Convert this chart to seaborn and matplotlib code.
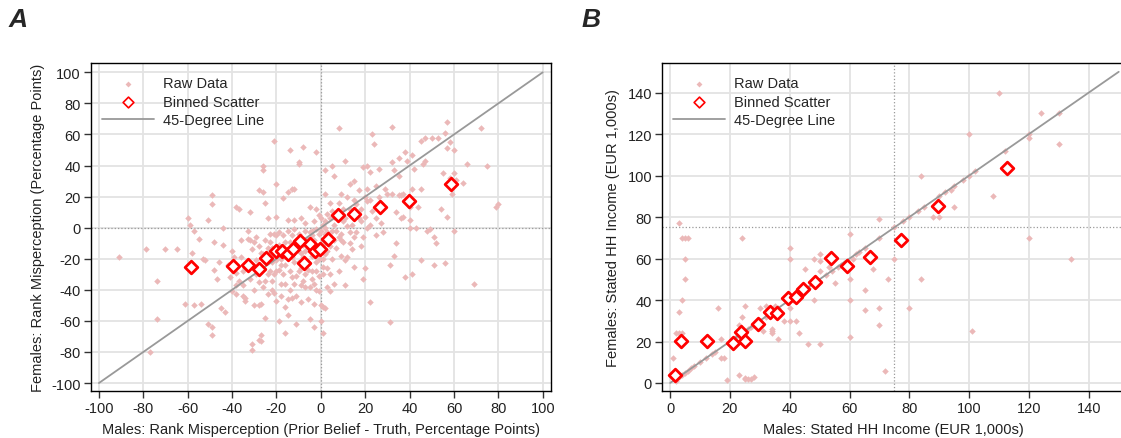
import numpy as np
import pandas as pd
import matplotlib
matplotlib.use('Agg')
import matplotlib.pyplot as plt
import seaborn as sns

# panel A: rank misperception (males x, females y)
raw_a = [
    (-91, -19), (-79, -14), (-70, -14), (-65, -14), (-60, 6), (-59, 2), (-57, -2), (-74, -34),
    (-74, -59), (-77, -80), (-61, -49), (-57, -50), (-58, -16), (-55, -7), (-54, -49), (-52, -21),
    (-53, -20), (-51, -62), (-49, -64), (-49, -69), (-49, 21), (-49, 15), (-51, 5), (-48, -27),
    (-47, -33), (-48, -9), (-45, -52), (-44, -11), (-43, -54), (-44, 0), (-46, -22), (-42, -24),
    (-40, -15), (-38, -43), (-38, -37), (-38, 13), (-37, 12), (-38, -29), (-39, -19), (-36, -19),
    (-36, -8), (-35, -28), (-35, -44), (-34, -45), (-34, -47), (-33, -2), (-33, -7), (-32, -8),
    (-32, 10), (-31, -79), (-31, -75), (-29, -21), (-30, -50), (-29, -30), (-28, -50), (-28, -72),
    (-27, -69), (-27, -49), (-27, -73), (-26, -38), (-26, -17), (-26, 40), (-26, 37), (-26, 23),
    (-28, 24), (-25, -58), (-25, -34), (-24, -43), (-25, 16), (-24, 6), (-24, -13), (-23, -9),
    (-23, -4), (-22, -34), (-21, -42), (-21, -30), (-20, -28), (-20, -47), (-19, -60), (-20, 28),
    (-20, 7), (-20, -21), (-21, 56), (-18, -24), (-18, -20), (-17, -5), (-17, 19), (-16, -51),
    (-16, -68), (-15, -56), (-15, -46), (-15, 23), (-14, 50), (-14, -40), (-13, -32), (-13, -5),
    (-12, 5), (-12, 25), (-12, -11), (-11, -31), (-11, -44), (-11, -62), (-10, -15), (-10, 42),
    (-10, -28), (-9, -16), (-9, -48), (-8, -7), (-8, -34), (-8, -11), (-7, -2), (-7, -30),
    (-6, -22), (-6, -46), (-5, -59), (-5, -38), (-5, -12), (-5, 13), (-4, -5), (-4, -28),
    (-3, -64), (-3, -49), (-3, -36), (-2, -28), (-2, -40), (-2, 12), (-2, -1), (-2, 49),
    (-1, -20), (-1, -41), (0, -2), (0, -50), (0, -60), (1, -68), (1, -30), (1, -51),
    (1, -20), (2, -52), (2, -10), (2, -4), (2, 0), (2, 4), (2, 37), (2, 22),
    (3, -26), (3, -38), (4, -6), (4, -41), (4, -30), (4, 6), (4, 16), (5, 11),
    (5, 40), (5, -20), (6, -36), (6, -8), (6, 33), (6, 7), (7, -13), (7, -2),
    (8, 64), (8, -28), (8, 16), (9, -4), (9, -18), (9, 22), (9, -8), (10, 4),
    (10, 12), (11, 43), (11, -37), (11, -21), (12, -19), (12, 20), (13, 28), (13, -10),
    (13, 12), (14, 2), (14, -14), (15, 30), (15, 18), (15, -6), (15, -25), (16, -3),
    (16, 10), (17, 6), (17, 24), (18, 4), (18, -12), (19, 39), (19, -6), (19, -33),
    (20, -26), (20, 7), (21, 0), (21, 40), (21, 25), (21, 17), (22, -48), (22, 18),
    (22, 2), (22, 36), (23, 60), (24, 54), (25, -5), (25, 6), (25, 27), (26, 20),
    (26, 38), (27, 16), (27, 3), (28, 13), (28, -3), (29, 25), (30, 22), (31, -61),
    (31, -24), (32, 65), (32, 42), (32, 22), (33, -18), (33, 37), (34, -10), (34, 10),
    (35, 45), (35, 21), (35, 33), (36, 6), (36, 21), (37, 22), (37, 7), (38, -32),
    (38, 49), (39, 43), (40, 0), (40, 5), (40, 13), (41, -30), (41, 25), (41, 47),
    (42, 38), (43, 0), (44, 13), (45, -21), (45, 56), (45, 25), (46, 41), (47, 43),
    (47, 58), (48, -2), (49, -1), (50, 58), (51, -24), (51, -6), (52, -10), (53, 58),
    (54, 12), (55, 35), (56, 61), (56, -23), (57, 51), (57, 68), (57, 7), (58, 55),
    (58, 32), (59, 22), (60, 35), (60, 50), (60, -2), (61, 31), (64, 29), (66, 41),
    (69, -36), (72, 64), (75, 40), (79, 13), (80, 15), (-8, 52), (-10, 41), (-13, 25),
    (-12, -1), (-15, 5), (-4, -2), (-1, 8), (-20, -5), (-18, -36), (-24, -21), (-22, -13),
    (-17, -30), (-14, -17), (-12, -22), (-9, -26), (-7, -15), (-6, -7), (-3, -15), (-1, -11),
    (1, -8), (3, -15), (-16, -9), (-19, -11), (-23, -28), (-27, -16), (-30, -9), (-34, -26),
    (-37, -34), (-40, -41), (-41, -32),
    # denser core of the cloud
    (-31, -14), (-29, -6), (-28, -12), (-26, -26), (-25, -8), (-22, -22), (-21, -17), (-21, -4),
    (-19, -27), (-19, -3), (-17, -14), (-16, -24), (-15, -2), (-14, -28), (-14, -9), (-13, -19),
    (-12, -36), (-11, -8), (-10, -4), (-10, -22), (-9, 6), (-8, -19), (-7, -38), (-7, 3),
    (-6, -13), (-6, -27), (-5, -3), (-4, -18), (-4, -33), (-3, -8), (-3, 4), (-2, -22),
    (-1, -4), (-1, -31), (0, 6), (0, -14), (1, -25), (1, 2), (2, -17), (3, -3),
    (3, 9), (4, -12), (5, -2), (6, 2), (7, 9), (8, -6), (10, -9), (11, 6),
    (12, 1), (13, -3), (16, 15), (18, 12), (20, 20), (23, 11), (-35, -37), (-32, -33),
    (-30, -40), (-28, -35), (-24, -30), (-22, -40), (-18, -44), (-16, -36), (-13, -45), (-9, -37),
]
bin_a_x = [-58.7, -39.5, -32.8, -28.0, -24.8, -20.4, -17.5, -14.6, -12.4, -9.5,
           -7.4, -4.8, -2.6, -0.2, 3.4, 7.7, 15.1, 26.7, 39.9, 58.5]
bin_a_y = [-25.1, -24.6, -24.0, -26.8, -19.5, -15.0, -14.8, -17.1, -13.5, -8.4,
           -22.5, -10.7, -15.2, -13.9, -7.5, 7.9, 9.0, 13.1, 17.3, 27.8]
line_a = [-100, 100]

# panel B: stated household income
raw_b = [
    (1, 12), (2, 1), (2, 24), (3, 24), (3, 34), (3, 77), (4, 70), (4, 40), (4, 24), (5, 70),
    (5, 60), (5, 50), (6, 70), (3, 3), (4, 4), (5, 5), (6, 6), (7, 7), (8, 8), (10, 10),
    (12, 12), (14, 14), (15, 15), (16, 36), (17, 21), (17, 12), (18, 12), (19, 1.5), (20, 20), (22, 22),
    (23, 4), (23, 28), (24, 70), (24, 32), (25, 2), (25, 2.5), (26, 2), (27, 2), (25, 37), (26, 26),
    (27, 27), (28, 3), (30, 30), (30, 36), (31, 25), (32, 32), (32, 37), (33, 34), (34, 26), (34, 24),
    (34, 25), (35, 37), (35, 35), (36, 21), (36, 36), (38, 30), (40, 65), (40, 60), (40, 30), (40, 36),
    (41, 40), (42, 30), (43, 24), (44, 44), (45, 55), (46, 19), (46, 46), (48, 40), (48, 60), (49, 49),
    (50, 62), (50, 59), (50, 19), (50, 54), (52, 52), (53, 56), (54, 54), (55, 48), (56, 56), (57, 57),
    (58, 58), (59, 59), (60, 72), (60, 50), (60, 40), (60, 22), (61, 60), (62, 62), (63, 63), (65, 45),
    (65, 35), (65, 65), (66, 60), (68, 55), (70, 79), (70, 70), (70, 36), (70, 28), (72, 6), (73, 50),
    (75, 60), (75, 75), (78, 78), (80, 36), (80, 80), (83, 83), (84, 100), (84, 50), (85, 85), (88, 80),
    (90, 90), (90, 80), (92, 92), (94, 93), (95, 85), (95, 95), (98, 98), (100, 120), (100, 100), (101, 25),
    (102, 102), (108, 90), (110, 140), (112, 112), (120, 120), (120, 70), (124, 130), (130, 130), (130, 115),
    (134, 60), (120, 118),
]
bin_b_x = [1.8, 3.7, 12.2, 21.1, 23.8, 25.1, 29.4, 33.3, 35.7, 39.4,
           42.0, 44.6, 48.6, 53.8, 59.1, 66.8, 77.3, 89.5, 112.7]
bin_b_y = [3.9, 20.3, 20.4, 19.1, 24.6, 20.1, 28.3, 34.4, 33.8, 40.8,
           41.6, 45.2, 48.5, 60.3, 56.3, 60.9, 69.0, 85.4, 103.8]
line_b = [0, 150]

sns.set_style('whitegrid')
plt.rcParams['font.family'] = ['Liberation Sans', 'DejaVu Sans']
plt.rcParams['axes.unicode_minus'] = False

RAW_COLOR = '#ebb8b8'
GRID_COLOR = '#e3e3e3'
FS = 10.5


def draw_panel(ax, raw, bx, by, line, xlabel, ylabel, xlim, ylim, ticks, ref):
    df_raw = pd.DataFrame(raw, columns=['x', 'y'])
    df_bin = pd.DataFrame({'x': bx, 'y': by})
    sns.scatterplot(data=df_raw, x='x', y='y', ax=ax, marker='D', s=11, color=RAW_COLOR,
                    linewidth=0, label='Raw Data', zorder=3)
    sns.scatterplot(data=df_bin, x='x', y='y', ax=ax, marker='D', s=42, facecolor='white',
                    edgecolor='#ff0000', linewidth=2, label='Binned Scatter', zorder=5)
    sns.lineplot(x=line, y=line, ax=ax, color='#999999', linewidth=1.3,
                 label='45-Degree Line', zorder=4)
    ax.axvline(ref, color='#999999', linestyle=':', linewidth=0.9, zorder=2)
    ax.axhline(ref, color='#999999', linestyle=':', linewidth=0.9, zorder=2)
    ax.set_xlim(*xlim)
    ax.set_ylim(*ylim)
    ax.set_xticks(ticks[0])
    ax.set_yticks(ticks[1])
    ax.grid(True, color=GRID_COLOR, linewidth=1.3)
    ax.set_axisbelow(True)
    for sp in ax.spines.values():
        sp.set_color('black')
        sp.set_linewidth(1.0)
    ax.tick_params(axis='both', which='both', direction='out', length=5, width=1.0,
                   color='#333333', labelsize=FS, labelcolor='#222222', pad=2,
                   bottom=True, left=True)
    ax.set_xlabel(xlabel, fontsize=FS, color='#222222', labelpad=5)
    ax.set_ylabel(ylabel, fontsize=FS, color='#222222', labelpad=5)
    leg = ax.legend(loc='upper left', bbox_to_anchor=(-0.004, 1.0), frameon=False,
                    fontsize=FS, handlelength=3.6, handletextpad=0.6,
                    labelspacing=0.3, borderpad=0.9, borderaxespad=0.0)
    leg.legend_handles[0].set_sizes([9])
    leg.legend_handles[1].set_sizes([30])
    leg.legend_handles[1].set_linewidth(1.2)


fig = plt.figure(figsize=(11.21, 4.39), dpi=100)
ax_a = fig.add_axes([0.0809, 0.1064, 0.4104, 0.7471])
ax_b = fig.add_axes([0.5903, 0.1064, 0.413, 0.7471])

draw_panel(ax_a, raw_a, bin_a_x, bin_a_y, line_a,
           'Males: Rank Misperception (Prior Belief - Truth, Percentage Points)',
           'Females: Rank Misperception (Percentage Points)',
           (-103.7, 103.6), (-105.3, 105.8),
           (np.arange(-100, 101, 20), np.arange(-100, 101, 20)), 0)
draw_panel(ax_b, raw_b, bin_b_x, bin_b_y, line_b,
           'Males: Stated HH Income (EUR 1,000s)',
           'Females: Stated HH Income (EUR 1,000s)',
           (-2.8, 152.0), (-4.0, 154.1),
           (np.arange(0, 141, 20), np.arange(0, 141, 20)), 75)

fig.text(0.0075, 0.955, 'A', fontsize=19, fontweight='bold', fontstyle='italic', va='center')
fig.text(0.519, 0.955, 'B', fontsize=19, fontweight='bold', fontstyle='italic', va='center')

fig.savefig('out.png', dpi=100)
